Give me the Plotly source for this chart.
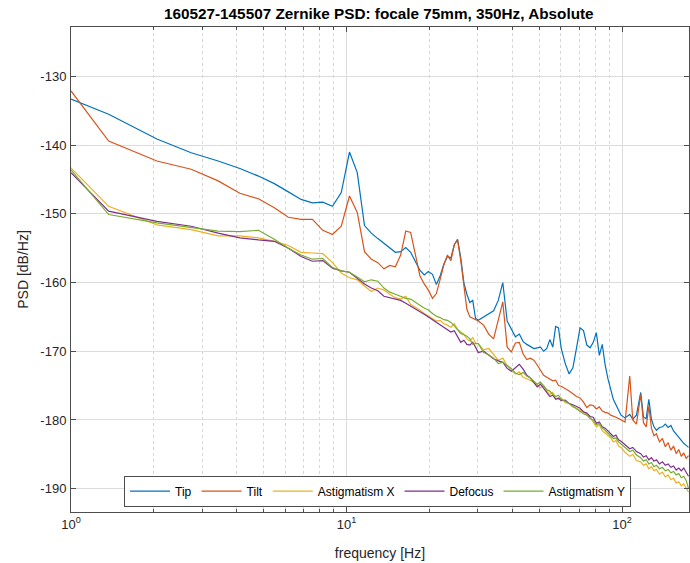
import plotly.graph_objects as go

freq = [1.00, 1.37, 2.05, 2.73, 3.42, 4.10, 4.79, 5.47, 6.15, 6.84,
        7.52, 8.20, 8.89, 9.57, 10.25, 10.94, 11.62, 12.30, 12.99, 13.67,
        14.36, 15.04, 15.72, 16.41, 17.09, 17.77, 18.46, 19.14, 19.82, 20.51,
        21.19, 21.88, 22.56, 23.24, 23.93, 24.61, 25.29, 25.98, 26.66, 27.34,
        28.03, 28.71, 29.39, 30.08, 31.45, 32.81, 34.18, 35.55, 36.91, 38.28,
        39.65, 41.02, 42.38, 43.75, 45.12, 46.48, 47.85, 49.22, 50.59, 51.95,
        53.32, 54.69, 56.05, 57.42, 58.79, 60.16, 62.21, 64.26, 66.31, 68.36,
        70.41, 72.46, 74.51, 76.56, 78.61, 80.66, 82.71, 84.77, 86.82, 88.87,
        90.92, 92.97, 95.02, 97.07, 99.12, 102.54, 106.64, 109.38, 112.79, 116.89,
        119.63, 122.36, 125.10, 127.83, 130.57, 133.30, 136.72, 140.14, 143.55, 146.97,
        150.39, 153.81, 157.23, 160.64, 164.06, 167.48, 170.90, 174.32]

tip = [-133.3, -135.5, -139.1, -141.1, -142.3, -143.4, -144.5, -145.6, -146.8, -147.9,
       -148.4, -148.3, -148.9, -146.9, -141.0, -144.0, -151.7, -152.8, -153.6, -154.3,
       -155.1, -155.6, -155.5, -154.9, -155.6, -156.9, -158.2, -158.9, -158.4, -158.8,
       -160.3, -159.0, -157.3, -156.2, -156.4, -154.5, -153.7, -156.4, -160.0, -161.7,
       -162.9, -162.6, -165.2, -165.5, -165.0, -164.5, -164.1, -162.6, -160.0, -165.6,
       -166.8, -167.9, -167.5, -168.6, -169.0, -169.3, -169.6, -169.5, -169.4, -170.0,
       -169.6, -168.3, -169.4, -166.4, -166.6, -169.6, -171.8, -173.3, -172.4, -169.5,
       -166.6, -167.0, -169.1, -169.5, -168.7, -167.3, -170.6, -169.0, -172.0, -174.0,
       -175.6, -177.0, -177.8, -178.6, -179.3, -179.7, -179.2, -179.9, -179.3, -176.0,
       -179.6, -179.8, -177.0, -179.9, -181.0, -181.5, -181.1, -181.0, -180.6, -181.1,
       -180.8, -181.6, -182.1, -182.5, -182.9, -183.4, -183.7, -184.0]

tilt = [-132.1, -139.4, -142.3, -143.5, -145.2, -147.0, -147.8, -149.1, -150.5, -150.8,
        -150.8, -152.4, -153.0, -151.8, -147.4, -149.8, -155.5, -156.6, -157.1, -158.0,
        -157.5, -157.7, -156.0, -152.5, -152.7, -155.8, -159.0, -160.2, -161.1, -162.3,
        -161.6, -159.5, -157.4, -156.0, -156.8, -154.5, -153.8, -156.8, -160.8, -163.9,
        -165.0, -165.2, -165.3, -165.6, -166.2, -167.5, -168.2, -165.5, -162.8, -169.4,
        -170.1, -168.8, -168.7, -170.4, -171.2, -171.0, -171.3, -172.0, -172.8, -173.5,
        -173.8, -174.1, -174.3, -174.2, -175.0, -175.1, -175.4, -175.8, -176.2, -176.6,
        -176.8, -177.4, -178.2, -177.8, -177.9, -178.4, -178.1, -178.7, -178.9, -179.0,
        -179.3, -179.4, -179.6, -179.8, -180.0, -180.3, -173.6, -180.0, -180.6, -176.3,
        -180.4, -181.0, -178.0, -181.2, -182.3, -182.0, -183.2, -182.7, -183.9, -183.3,
        -184.4, -183.8, -184.9, -184.3, -185.3, -184.8, -185.6, -185.2]

astig_x = [-143.3, -148.9, -151.6, -152.3, -153.2, -153.2, -153.5, -154.0, -154.6, -155.6,
           -155.7, -155.8, -157.1, -158.6, -159.3, -159.6, -160.5, -161.3, -160.8, -161.1,
           -161.7, -162.2, -162.4, -162.0, -163.2, -163.6, -164.0, -164.5, -164.9, -165.3,
           -165.6, -165.5, -166.0, -166.2, -166.5, -166.0, -166.8, -167.2, -167.5, -168.2,
           -168.5, -168.0, -168.8, -168.9, -169.8, -169.6, -170.5, -171.3, -171.0, -172.1,
           -172.8, -173.3, -173.0, -173.8, -174.0, -174.2, -174.5, -174.9, -175.3, -175.0,
           -175.8, -176.3, -176.0, -176.9, -177.0, -176.8, -177.5, -177.6, -178.1, -178.3,
           -178.6, -178.9, -179.2, -179.6, -180.3, -181.0, -180.7, -181.6, -181.9, -182.2,
           -182.6, -183.2, -183.0, -183.8, -184.0, -184.7, -185.3, -185.0, -185.9, -186.1,
           -186.6, -186.4, -187.1, -186.8, -187.4, -187.2, -187.9, -187.6, -188.3, -188.0,
           -188.7, -188.5, -189.2, -189.0, -189.6, -189.3, -190.0, -190.5]

defocus = [-144.0, -149.6, -151.1, -151.8, -152.8, -153.5, -153.8, -154.0, -155.0, -156.2,
           -156.9, -156.8, -157.9, -158.3, -158.5, -159.4, -160.2, -160.8, -161.2, -162.0,
           -162.2, -162.4, -162.6, -163.0, -163.4, -163.8, -164.2, -164.6, -165.0, -165.4,
           -165.8, -166.2, -166.5, -166.8, -167.2, -167.0, -167.9, -168.7, -168.4, -169.0,
           -169.1, -168.7, -169.4, -170.2, -170.0, -170.6, -171.1, -171.4, -171.6, -172.5,
           -172.9, -172.4, -171.9, -172.6, -173.5, -173.9, -174.6, -175.2, -174.8, -175.4,
           -176.0, -176.6, -176.4, -177.0, -176.8, -177.2, -177.1, -177.6, -177.8, -178.0,
           -178.3, -178.8, -179.0, -179.5, -179.6, -180.5, -180.3, -181.0, -181.2, -181.6,
           -182.0, -182.4, -182.2, -182.9, -183.1, -183.6, -184.2, -184.0, -184.6, -184.9,
           -185.4, -185.2, -185.8, -185.5, -186.0, -185.8, -186.4, -186.1, -186.6, -186.4,
           -186.9, -186.7, -187.3, -187.0, -187.4, -187.0, -187.6, -188.2]

astig_y = [-143.6, -150.1, -151.3, -152.0, -152.5, -152.6, -152.4, -153.7, -155.0, -156.0,
           -156.6, -156.5, -157.8, -158.3, -158.5, -159.2, -159.9, -159.6, -159.8, -160.8,
           -161.4, -161.7, -162.0, -162.3, -162.4, -162.8, -163.3, -163.7, -164.0, -164.5,
           -164.9, -165.1, -165.4, -165.5, -165.8, -166.3, -166.8, -167.4, -167.6, -167.8,
           -168.2, -169.0, -168.9, -168.9, -170.2, -170.5, -171.0, -171.8, -171.6, -172.0,
           -172.5, -173.2, -173.4, -173.1, -173.6, -173.9, -174.3, -174.8, -174.5, -175.1,
           -175.6, -175.8, -176.3, -176.6, -176.4, -177.0, -177.3, -177.6, -178.0, -178.4,
           -178.8, -179.1, -179.3, -179.8, -180.0, -180.7, -180.5, -181.2, -181.5, -181.9,
           -182.3, -182.7, -182.6, -183.2, -183.5, -184.0, -184.6, -184.4, -185.1, -185.5,
           -186.0, -185.8, -186.4, -186.2, -186.8, -186.6, -187.1, -186.9, -187.4, -187.2,
           -187.7, -187.5, -188.0, -187.8, -188.4, -188.2, -188.8, -190.0]

series_names = ["Tip", "Tilt", "Astigmatism X", "Defocus", "Astigmatism Y"]
series_values = [tip, tilt, astig_x, defocus, astig_y]
series_colors = ["#0072BD", "#D95319", "#EDB120", "#7E2F8E", "#77AC30"]

y_ticks = [-190, -180, -170, -160, -150, -140, -130]
y_tick_text = ["-190", "-180", "-170", "-160", "-150", "-140", "-130"]
x_major = [1, 10, 100]
x_major_text = ["10<sup>0</sup>", "10<sup>1</sup>", "10<sup>2</sup>"]
x_minor = [2, 3, 4, 5, 6, 7, 8, 9, 20, 30, 40, 50, 60, 70, 80, 90]

FONT = "Liberation Sans, Arial, sans-serif"
AX = "#262626"
LINE = "#4d4d4d"

fig = go.Figure()
for name, vals, col in zip(series_names, series_values, series_colors):
    fig.add_trace(go.Scatter(x=freq, y=vals, mode="lines", name=name,
                             line=dict(color=col, width=1.2)))

fig.update_layout(
    width=690, height=563,
    margin=dict(l=71, r=1, t=27, b=51, autoexpand=False),
    paper_bgcolor="white", plot_bgcolor="white",
    font=dict(family=FONT, size=13, color=AX),
    title=dict(text="<b>160527-145507 Zernike PSD: focale 75mm, 350Hz, Absolute</b>",
               x=0.549, xanchor="center", y=0.976, yanchor="middle",
               font=dict(size=15.3, color="black"), automargin=False),
    legend=dict(orientation="h", x=0.496, xanchor="center", y=0.011, yanchor="bottom",
                bgcolor="white", bordercolor=LINE, borderwidth=1,
                font=dict(size=12, color="black"), itemwidth=40),
    showlegend=True,
)

fig.update_xaxes(
    type="log", range=[0, 2.243], automargin=False,
    tickmode="array", tickvals=x_major, ticktext=x_major_text,
    ticks="inside", ticklen=5, tickcolor=LINE,
    showline=True, linecolor=LINE, linewidth=1, mirror="ticks",
    showgrid=True, gridcolor="#dcdcdc", gridwidth=1,
    minor=dict(tickmode="array", tickvals=x_minor, ticks="inside", ticklen=3,
               tickcolor=LINE, showgrid=True, gridcolor="#d6d6d6", griddash="dot",
               gridwidth=1),
    title=dict(text="frequency [Hz]", standoff=17, font=dict(size=14)),
    tickfont=dict(size=13), zeroline=False,
)
fig.update_yaxes(
    range=[-193.4, -122.8], automargin=False,
    tickmode="array", tickvals=y_ticks, ticktext=y_tick_text,
    ticks="inside", ticklen=5, tickcolor=LINE,
    showline=True, linecolor=LINE, linewidth=1, mirror="ticks",
    showgrid=True, gridcolor="#dcdcdc", gridwidth=1,
    title=dict(text="PSD [dB/Hz]", standoff=8, font=dict(size=14)),
    tickfont=dict(size=13), ticklabelstandoff=1, zeroline=False,
)

fig.write_html("out.html", config={"displayModeBar": False},
               post_script="document.body.style.margin='0';")
